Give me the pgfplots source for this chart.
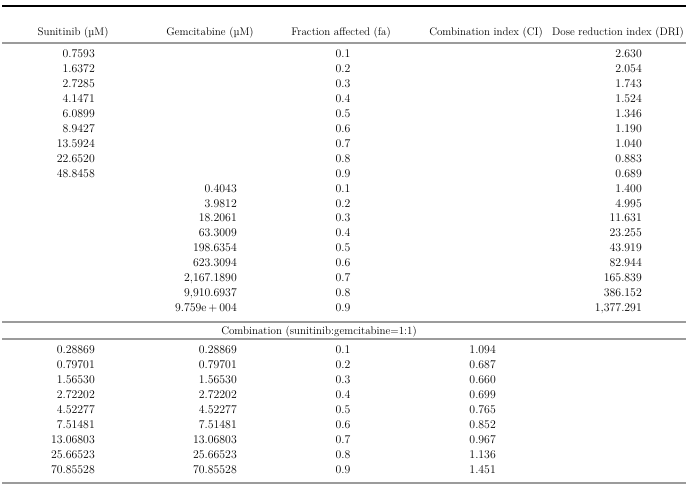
\documentclass[border=0pt]{standalone}
\usepackage{pgfplots}
\usepackage{pgfplotstable}
\pgfplotsset{compat=1.18}
\definecolor{rulegray}{RGB}{155,155,155}

% header row: x; y(baseline); text
\pgfplotstableread[col sep=semicolon]{
x;y;label
73;36;Sunitinib (µM)
210;36;Gemcitabine (µM)
341;36;Fraction affected (fa)
486;36;Combination index (CI)
618;36;Dose reduction index (DRI)
319;334;Combination (sunitinib:gemcitabine=1:1)
}\tabHead

% single agents
\pgfplotstableread[col sep=semicolon]{
y;sun;gem;fa;dri
58.0;0.7593;;0.1;2.630
72.9;1.6372;;0.2;2.054
87.8;2.7285;;0.3;1.743
102.7;4.1471;;0.4;1.524
117.6;6.0899;;0.5;1.346
132.5;8.9427;;0.6;1.190
147.4;13.5924;;0.7;1.040
162.3;22.6520;;0.8;0.883
177.2;48.8458;;0.9;0.689
192.1;;0.4043;0.1;1.400
207.0;;3.9812;0.2;4.995
221.9;;18.2061;0.3;11.631
236.8;;63.3009;0.4;23.255
251.7;;198.6354;0.5;43.919
266.6;;623.3094;0.6;82.944
281.5;;2,167.1890;0.7;165.839
296.4;;9,910.6937;0.8;386.152
311.3;;9.759e\,+\,004;0.9;1,377.291
}\tabSingle

% combination
\pgfplotstableread[col sep=semicolon]{
y;sun;gem;fa;ci
353;0.28869;0.28869;0.1;1.094
368;0.79701;0.79701;0.2;0.687
383;1.56530;1.56530;0.3;0.660
398;2.72202;2.72202;0.4;0.699
413;4.52277;4.52277;0.5;0.765
428;7.51481;7.51481;0.6;0.852
443;13.06803;13.06803;0.7;0.967
458;25.66523;25.66523;0.8;1.136
473;70.85528;70.85528;0.9;1.451
}\tabComb

\begin{document}
\begin{tikzpicture}
\begin{axis}[
  width=690bp, height=488bp, scale only axis,
  xmin=0, xmax=690, ymin=0, ymax=488, y dir=reverse,
  hide axis, clip=false,
  point meta=explicit symbolic,
  every node near coord/.append style={font=\fontsize{11.8bp}{13bp}\selectfont, inner sep=0pt, text=black},
]
% frame for bounding box
\addplot[draw=none] coordinates {(0,0) (690,488)};
% rules
\addplot[black, line width=1.2bp] coordinates {(2,6) (686,6)};
\addplot[rulegray, line width=1.5bp] coordinates {(2,43) (686,43)};
\addplot[rulegray, line width=1.5bp] coordinates {(2,322) (686,322)};
\addplot[rulegray, line width=1.5bp] coordinates {(2,339) (686,339)};
\addplot[rulegray, line width=1.5bp] coordinates {(2,483) (686,483)};
% headers
\addplot[only marks, mark=none, nodes near coords, every node near coord/.append style={anchor=base, font=\fontsize{11bp}{13bp}\selectfont}]
  table[x=x, y=y, meta=label] {\tabHead};
% single agents
\addplot[only marks, mark=none, nodes near coords, every node near coord/.append style={anchor=base east}]
  table[x expr=95, y=y, meta=sun] {\tabSingle};
\addplot[only marks, mark=none, nodes near coords, every node near coord/.append style={anchor=base east}]
  table[x expr=237, y=y, meta=gem] {\tabSingle};
\addplot[only marks, mark=none, nodes near coords, every node near coord/.append style={anchor=base}]
  table[x expr=343, y=y, meta=fa] {\tabSingle};
\addplot[only marks, mark=none, nodes near coords, every node near coord/.append style={anchor=base east}]
  table[x expr=642, y=y, meta=dri] {\tabSingle};
% combination
\addplot[only marks, mark=none, nodes near coords, every node near coord/.append style={anchor=base east}]
  table[x expr=95, y=y, meta=sun] {\tabComb};
\addplot[only marks, mark=none, nodes near coords, every node near coord/.append style={anchor=base east}]
  table[x expr=237, y=y, meta=gem] {\tabComb};
\addplot[only marks, mark=none, nodes near coords, every node near coord/.append style={anchor=base}]
  table[x expr=343, y=y, meta=fa] {\tabComb};
\addplot[only marks, mark=none, nodes near coords, every node near coord/.append style={anchor=base east}]
  table[x expr=496, y=y, meta=ci] {\tabComb};
\end{axis}
\end{tikzpicture}
\end{document}
